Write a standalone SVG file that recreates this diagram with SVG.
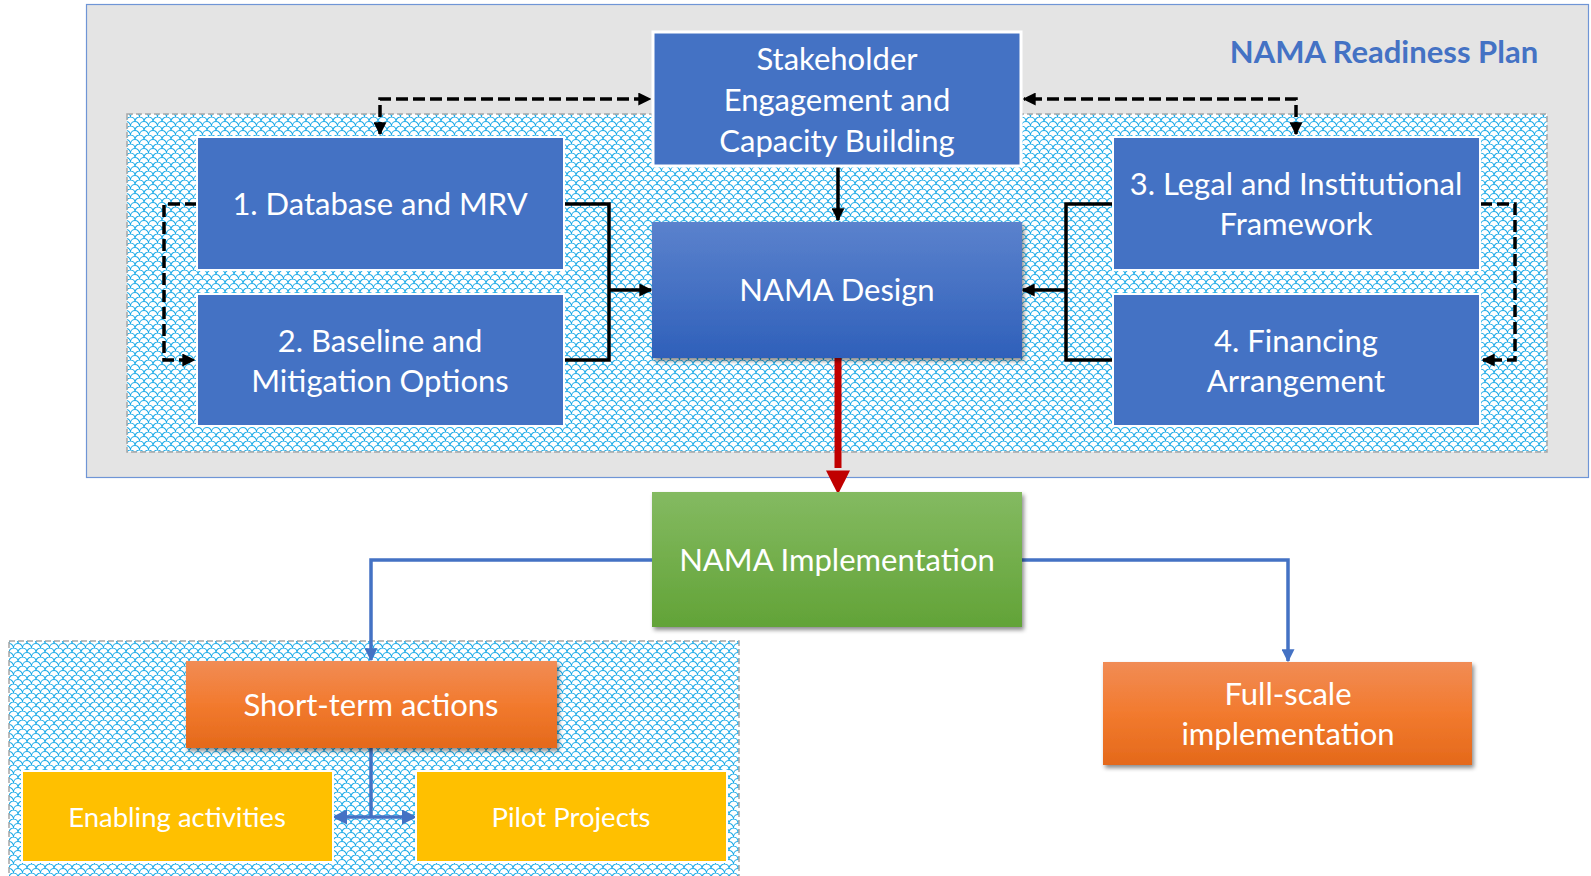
<svg xmlns="http://www.w3.org/2000/svg" width="1591" height="876" viewBox="0 0 1591 876">
<defs>
<pattern id="scales" x="0" y="0" width="9" height="9" patternUnits="userSpaceOnUse">
<rect width="9" height="9" fill="#ffffff"/>
<path d="M0,4.5 A4.5,4.5 0 0 1 9,4.5 M-4.5,9 A4.5,4.5 0 0 1 4.5,9 M4.5,9 A4.5,4.5 0 0 1 13.5,9 M-4.5,0 A4.5,4.5 0 0 1 4.5,0 M4.5,0 A4.5,4.5 0 0 1 13.5,0" fill="none" stroke="#1AAAE8" stroke-width="1.1"/>
</pattern>
<linearGradient id="gBlue" x1="0" y1="0" x2="0" y2="1">
<stop offset="0" stop-color="#5B82CD"/>
<stop offset="1" stop-color="#2F60BA"/>
</linearGradient>
<linearGradient id="gGreen" x1="0" y1="0" x2="0" y2="1">
<stop offset="0" stop-color="#84BA61"/>
<stop offset="1" stop-color="#62A337"/>
</linearGradient>
<linearGradient id="gOrange" x1="0" y1="0" x2="0" y2="1">
<stop offset="0" stop-color="#F18C55"/>
<stop offset="0.5" stop-color="#F27A2E"/>
<stop offset="1" stop-color="#E4691B"/>
</linearGradient>
<filter id="shadow" x="-10%" y="-10%" width="125%" height="130%">
<feDropShadow dx="2" dy="3" stdDeviation="2" flood-color="#000000" flood-opacity="0.45"/>
</filter>
<marker id="arrBlack" viewBox="0 0 10 10" refX="9" refY="5" markerWidth="13" markerHeight="13" markerUnits="userSpaceOnUse" orient="auto-start-reverse">
<path d="M0,0 L10,5 L0,10 Z" fill="#000000"/>
</marker>
<marker id="arrRed" viewBox="0 0 10 10" refX="9" refY="5" markerWidth="24" markerHeight="24" markerUnits="userSpaceOnUse" orient="auto">
<path d="M0,0 L10,5 L0,10 Z" fill="#C00000"/>
</marker>
<marker id="arrBlue" viewBox="0 0 10 10" refX="9" refY="5" markerWidth="13" markerHeight="13" markerUnits="userSpaceOnUse" orient="auto-start-reverse">
<path d="M0,0 L10,5 L0,10 Z" fill="#4472C4"/>
</marker>
<marker id="arrBlueL" viewBox="0 0 10 10" refX="8" refY="5" markerWidth="15" markerHeight="15" markerUnits="userSpaceOnUse" orient="auto-start-reverse">
<path d="M0,0 L10,5 L0,10 Z" fill="#4472C4"/>
</marker>
</defs>
<style>
.t{font-family:Lato,"Liberation Sans",sans-serif;fill:#ffffff;text-anchor:middle;font-size:31px}
.ts{font-family:Lato,"Liberation Sans",sans-serif;fill:#ffffff;text-anchor:middle;font-size:27.5px}
.title{font-family:Lato,"Liberation Sans",sans-serif;fill:#4472C4;font-weight:bold;font-size:31px;text-anchor:middle}
.blue{fill:#4472C4;stroke:#ffffff;stroke-width:2}
.yellow{fill:#FFC000;stroke:#ffffff;stroke-width:2}
.hatch{fill:url(#scales);stroke:#A6A6A6;stroke-width:1.5;stroke-dasharray:6 3}
.dash{fill:none;stroke:#000000;stroke-width:3.5;stroke-dasharray:12 5}
.solid{fill:none;stroke:#000000;stroke-width:3.5}
.bl{fill:none;stroke:#4472C4;stroke-width:3.5}
</style>
<rect width="1591" height="876" fill="#ffffff"/>
<g id="readiness-plan">
<rect x="86.5" y="4.5" width="1502" height="473" fill="#E4E4E4" stroke="#6F95D6" stroke-width="1.2"/>
<text class="title" x="1384" y="63">NAMA Readiness Plan</text>
</g>
<rect id="hatch-top" class="hatch" x="127" y="114" width="1420" height="338"/>
<rect id="hatch-bottom" class="hatch" x="9" y="641" width="730" height="250"/>
<g id="connectors">
<path class="dash" d="M380,134 V99 H650" marker-start="url(#arrBlack)" marker-end="url(#arrBlack)"/>
<path class="dash" d="M1296,134 V99 H1024" marker-start="url(#arrBlack)" marker-end="url(#arrBlack)"/>
<path class="dash" d="M197,204 H164 V360 H194" marker-end="url(#arrBlack)"/>
<path class="dash" d="M1480,204 H1515 V360 H1483" marker-end="url(#arrBlack)"/>
<path class="solid" d="M838,167 V220" marker-end="url(#arrBlack)"/>
<path class="solid" d="M564,204 H609 V360 H564"/>
<path class="solid" d="M609,290 H651" marker-end="url(#arrBlack)"/>
<path class="solid" d="M1113,204 H1066 V360 H1113"/>
<path class="solid" d="M1066,290 H1023" marker-end="url(#arrBlack)"/>
<path d="M838,358 V468" fill="none" stroke="#C00000" stroke-width="7"/>
<path d="M838,465 V492" fill="none" stroke="none" marker-end="url(#arrRed)"/>
<path class="bl" d="M652,560 H371 V660" marker-end="url(#arrBlue)"/>
<path class="bl" d="M1022,560 H1288 V661" marker-end="url(#arrBlue)"/>
<path class="bl" d="M371,748 V817"/>
<path class="bl" d="M335,817 H414" stroke-width="4" marker-start="url(#arrBlueL)" marker-end="url(#arrBlueL)"/>
</g>
<g id="stakeholder">
<rect x="653" y="32" width="368" height="134" fill="#4472C4" stroke="#ffffff" stroke-width="3"/>
<text class="t" x="837" y="70">Stakeholder</text>
<text class="t" x="837" y="111">Engagement and</text>
<text class="t" x="837" y="152">Capacity Building</text>
</g>
<g id="database">
<rect class="blue" x="197" y="137" width="367" height="133"/>
<text class="t" x="380" y="215">1. Database and MRV</text>
</g>
<g id="baseline">
<rect class="blue" x="197" y="294" width="367" height="132"/>
<text class="t" x="380" y="352">2. Baseline and</text>
<text class="t" x="380" y="392">Mitigation Options</text>
</g>
<g id="legal">
<rect class="blue" x="1113" y="137" width="367" height="133"/>
<text class="t" x="1296" y="195">3. Legal and Institutional</text>
<text class="t" x="1296" y="235">Framework</text>
</g>
<g id="financing">
<rect class="blue" x="1113" y="294" width="367" height="132"/>
<text class="t" x="1296" y="352">4. Financing</text>
<text class="t" x="1296" y="392">Arrangement</text>
</g>
<g id="nama-design">
<rect x="652" y="222" width="370" height="136" fill="url(#gBlue)" filter="url(#shadow)"/>
<text class="t" x="837" y="301">NAMA Design</text>
</g>
<g id="nama-implementation">
<rect x="652" y="492" width="370" height="135" fill="url(#gGreen)" filter="url(#shadow)"/>
<text class="t" x="837" y="571">NAMA Implementation</text>
</g>
<g id="short-term">
<rect x="186" y="661" width="371" height="87" fill="url(#gOrange)" filter="url(#shadow)"/>
<text class="t" x="371" y="716">Short-term actions</text>
</g>
<g id="full-scale">
<rect x="1103" y="662" width="369" height="103" fill="url(#gOrange)" filter="url(#shadow)"/>
<text class="t" x="1288" y="705">Full-scale</text>
<text class="t" x="1288" y="745">implementation</text>
</g>
<g id="enabling">
<rect class="yellow" x="22" y="771" width="311" height="91"/>
<text class="ts" x="177" y="827">Enabling activities</text>
</g>
<g id="pilot">
<rect class="yellow" x="416" y="771" width="311" height="91"/>
<text class="ts" x="571" y="827">Pilot Projects</text>
</g>
</svg>
